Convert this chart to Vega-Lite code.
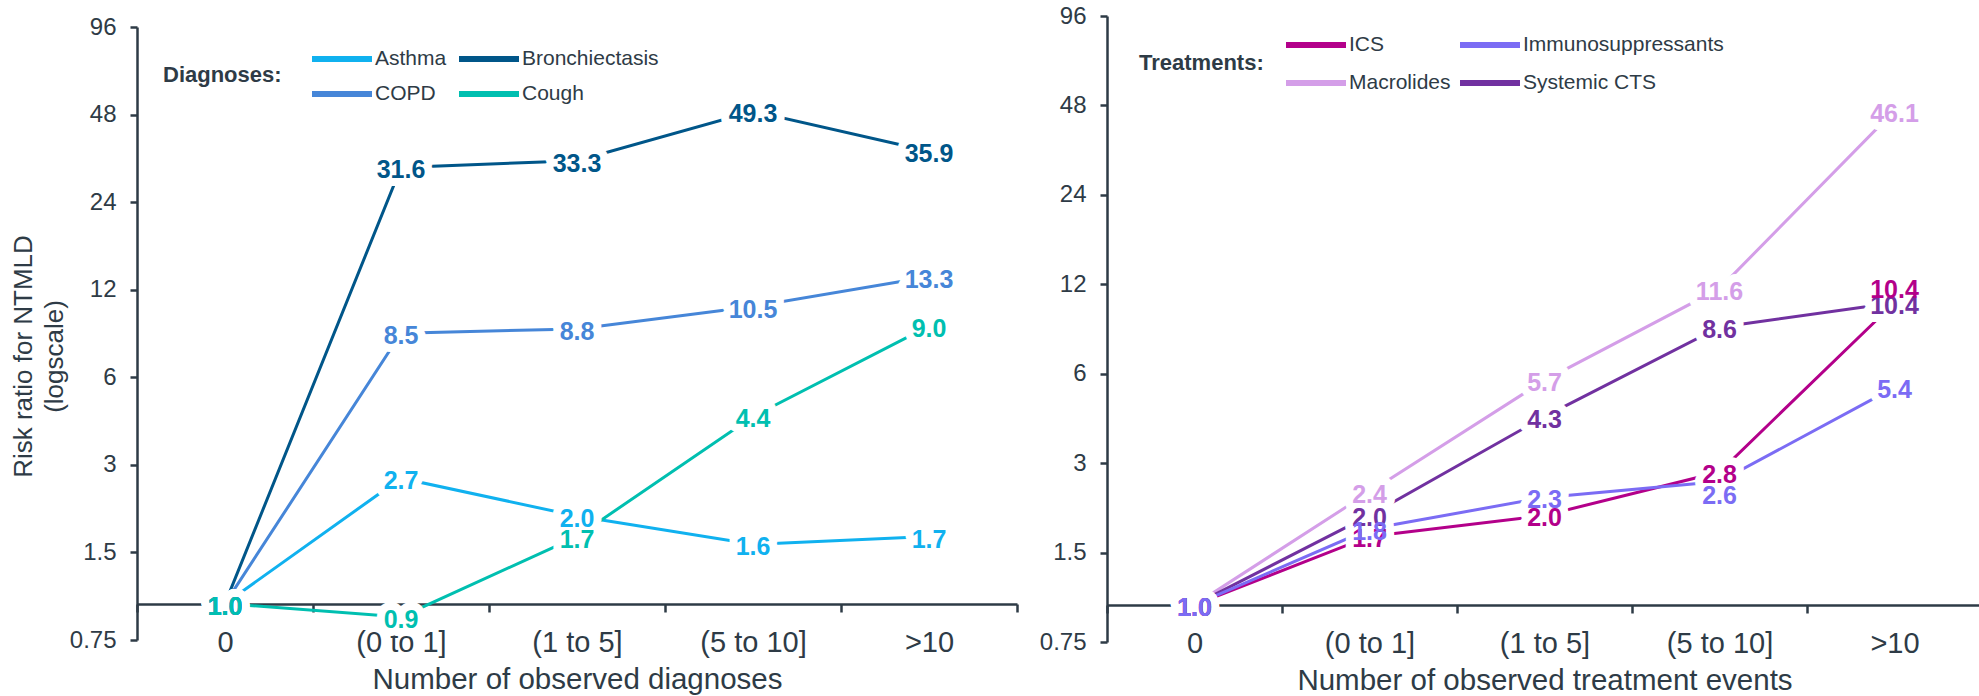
{
  "$schema": "https://vega.github.io/schema/vega-lite/v6.json",
  "padding": {"left": 10, "top": 4, "right": 0, "bottom": 0},
  "spacing": 20,
  "datasets": {
    "diag": [
      {"series": "Asthma", "cat": "0", "rr": 1.0},
      {"series": "Asthma", "cat": "(0 to 1]", "rr": 2.7},
      {"series": "Asthma", "cat": "(1 to 5]", "rr": 2.0},
      {"series": "Asthma", "cat": "(5 to 10]", "rr": 1.6},
      {"series": "Asthma", "cat": ">10", "rr": 1.7},
      {"series": "Bronchiectasis", "cat": "0", "rr": 1.0},
      {"series": "Bronchiectasis", "cat": "(0 to 1]", "rr": 31.6},
      {"series": "Bronchiectasis", "cat": "(1 to 5]", "rr": 33.3},
      {"series": "Bronchiectasis", "cat": "(5 to 10]", "rr": 49.3},
      {"series": "Bronchiectasis", "cat": ">10", "rr": 35.9},
      {"series": "COPD", "cat": "0", "rr": 1.0},
      {"series": "COPD", "cat": "(0 to 1]", "rr": 8.5},
      {"series": "COPD", "cat": "(1 to 5]", "rr": 8.8},
      {"series": "COPD", "cat": "(5 to 10]", "rr": 10.5},
      {"series": "COPD", "cat": ">10", "rr": 13.3},
      {"series": "Cough", "cat": "0", "rr": 1.0},
      {"series": "Cough", "cat": "(0 to 1]", "rr": 0.9},
      {"series": "Cough", "cat": "(1 to 5]", "rr": 1.7},
      {"series": "Cough", "cat": "(5 to 10]", "rr": 4.4},
      {"series": "Cough", "cat": ">10", "rr": 9.0}
    ],
    "treat": [
      {"series": "ICS", "cat": "0", "rr": 1.0},
      {"series": "ICS", "cat": "(0 to 1]", "rr": 1.7},
      {"series": "ICS", "cat": "(1 to 5]", "rr": 2.0},
      {"series": "ICS", "cat": "(5 to 10]", "rr": 2.8},
      {"series": "ICS", "cat": ">10", "rr": 10.4},
      {"series": "Macrolides", "cat": "0", "rr": 1.0},
      {"series": "Macrolides", "cat": "(0 to 1]", "rr": 2.4},
      {"series": "Macrolides", "cat": "(1 to 5]", "rr": 5.7},
      {"series": "Macrolides", "cat": "(5 to 10]", "rr": 11.6},
      {"series": "Macrolides", "cat": ">10", "rr": 46.1},
      {"series": "Systemic CTS", "cat": "0", "rr": 1.0},
      {"series": "Systemic CTS", "cat": "(0 to 1]", "rr": 2.0},
      {"series": "Systemic CTS", "cat": "(1 to 5]", "rr": 4.3},
      {"series": "Systemic CTS", "cat": "(5 to 10]", "rr": 8.6},
      {"series": "Systemic CTS", "cat": ">10", "rr": 10.4},
      {"series": "Immunosuppressants", "cat": "0", "rr": 1.0},
      {"series": "Immunosuppressants", "cat": "(0 to 1]", "rr": 1.8},
      {"series": "Immunosuppressants", "cat": "(1 to 5]", "rr": 2.3},
      {"series": "Immunosuppressants", "cat": "(5 to 10]", "rr": 2.6},
      {"series": "Immunosuppressants", "cat": ">10", "rr": 5.4}
    ]
  },
  "config": {
    "font": "Liberation Sans",
    "view": {"stroke": null},
    "axis": {
      "grid": false,
      "domainColor": "#2e3b46",
      "tickColor": "#2e3b46",
      "labelColor": "#2e3b46",
      "titleColor": "#2e3b46",
      "domainWidth": 2.5,
      "tickWidth": 2.5,
      "labelFont": "Liberation Sans",
      "titleFont": "Liberation Sans",
      "titleFontWeight": "normal"
    },
    "legend": {
      "labelFont": "Liberation Sans",
      "titleFont": "Liberation Sans",
      "labelColor": "#2e3b46",
      "titleColor": "#2e3b46",
      "labelLimit": 400
    }
  },
  "resolve": {"scale": {"color": "independent", "x": "independent", "y": "independent"}, "legend": {"color": "independent"}},
  "hconcat": [
    {
      "width": 880,
      "height": 624,
      "data": {"name": "diag"},
      "encoding": {
        "x": {
          "field": "cat", "type": "ordinal",
          "sort": ["0", "(0 to 1]", "(1 to 5]", "(5 to 10]", ">10"],
          "scale": {"type": "band", "paddingInner": 0, "paddingOuter": 0},
          "axis": {
            "title": "Number of observed diagnoses",
            "offset": -36, "tickBand": "extent", "tickSize": 8,
            "labelPadding": 16, "labelFontSize": 29, "labelAngle": 0, "labelOverlap": false, "labelFlush": false,
            "titleFontSize": 29.5, "titlePadding": 8
          }
        },
        "y": {
          "field": "rr", "type": "quantitative",
          "scale": {"type": "log", "domain": [0.75, 96], "nice": false, "range": [624, 11]},
          "axis": {
            "values": [0.75, 1.5, 3, 6, 12, 24, 48, 96], "format": "~g",
            "tickSize": 7, "labelPadding": 14, "labelFontSize": 24,
            "title": ["Risk ratio for NTMLD", "(logscale)"],
            "titleFontSize": 26, "titleLineHeight": 31, "titlePadding": 2, "titleY": 340
          }
        }
      },
      "layer": [
        {
          "mark": {"type": "line", "strokeWidth": 3},
          "encoding": {
            "order": {"value": null},
            "color": {
              "field": "series", "type": "nominal",
              "scale": {"domain": ["Asthma", "Bronchiectasis", "COPD", "Cough"], "range": ["#10b1ef", "#005689", "#4686d8", "#00bfb0"]},
              "legend": {
                "orient": "none", "legendX": 26, "legendY": 28,
                "title": "Diagnoses:", "titleOrient": "left", "titleFontSize": 22, "titleFontWeight": "bold",
                "titlePadding": 45, "titleAnchor": "middle", "titleBaseline": "middle",
                "columns": 2, "direction": "horizontal",
                "symbolType": "M-2.5,0H2.5", "symbolSize": 576, "symbolStrokeWidth": 6,
                "labelFontSize": 21, "labelOffset": 18, "columnPadding": 0, "rowPadding": 8
              }
            }
          }
        },
        {
          "mark": {"type": "text", "fontSize": 25, "fontWeight": "bold", "dy": 3, "fill": "white", "stroke": "white", "strokeWidth": 16, "strokeJoin": "round"},
          "encoding": {"text": {"field": "rr", "type": "quantitative", "format": ".1f"}}
        },
        {
          "mark": {"type": "text", "fontSize": 25, "fontWeight": "bold", "dy": 3},
          "encoding": {
            "text": {"field": "rr", "type": "quantitative", "format": ".1f"},
            "color": {"field": "series", "type": "nominal", "legend": null}
          }
        }
      ]
    },
    {
      "width": 875,
      "height": 626,
      "data": {"name": "treat"},
      "encoding": {
        "x": {
          "field": "cat", "type": "ordinal",
          "sort": ["0", "(0 to 1]", "(1 to 5]", "(5 to 10]", ">10"],
          "scale": {"type": "band", "paddingInner": 0, "paddingOuter": 0},
          "axis": {
            "title": "Number of observed treatment events",
            "offset": -37, "tickBand": "extent", "tickSize": 8,
            "labelPadding": 16, "labelFontSize": 29, "labelAngle": 0, "labelOverlap": false, "labelFlush": false,
            "titleFontSize": 29.5, "titlePadding": 8
          }
        },
        "y": {
          "field": "rr", "type": "quantitative",
          "scale": {"type": "log", "domain": [0.75, 96], "nice": false},
          "axis": {
            "values": [0.75, 1.5, 3, 6, 12, 24, 48, 96], "format": "~g",
            "tickSize": 7, "labelPadding": 14, "labelFontSize": 24,
            "title": null
          }
        }
      },
      "layer": [
        {
          "mark": {"type": "line", "strokeWidth": 3},
          "encoding": {
            "order": {"value": null},
            "color": {
              "field": "series", "type": "nominal",
              "scale": {"domain": ["ICS", "Immunosuppressants", "Macrolides", "Systemic CTS"], "range": ["#b3008a", "#7b6cf4", "#d49ee8", "#7131a0"]},
              "legend": {
                "orient": "none", "legendX": 32, "legendY": 14,
                "title": "Treatments:", "titleOrient": "left", "titleFontSize": 22, "titleFontWeight": "bold",
                "titlePadding": 37, "titleAnchor": "middle", "titleBaseline": "middle",
                "columns": 2, "direction": "horizontal",
                "symbolType": "M-2.5,0H2.5", "symbolSize": 576, "symbolStrokeWidth": 6,
                "labelFontSize": 21, "labelOffset": 18, "columnPadding": -3, "rowPadding": 11
              }
            }
          }
        },
        {
          "transform": [{"filter": "!(datum.series === 'ICS' && datum.cat === '>10') && !(datum.series === 'Immunosuppressants' && datum.cat === '(5 to 10]')"}],
          "mark": {"type": "text", "fontSize": 25, "fontWeight": "bold", "dy": 3, "fill": "white", "stroke": "white", "strokeWidth": 16, "strokeJoin": "round"},
          "encoding": {"text": {"field": "rr", "type": "quantitative", "format": ".1f"}}
        },
        {
          "transform": [{"filter": "datum.series === 'ICS' && datum.cat === '>10'"}],
          "mark": {"type": "text", "fontSize": 25, "fontWeight": "bold", "dy": -13, "fill": "white", "stroke": "white", "strokeWidth": 16, "strokeJoin": "round"},
          "encoding": {"text": {"field": "rr", "type": "quantitative", "format": ".1f"}}
        },
        {
          "transform": [{"filter": "datum.series === 'Immunosuppressants' && datum.cat === '(5 to 10]'"}],
          "mark": {"type": "text", "fontSize": 25, "fontWeight": "bold", "dy": 14, "fill": "white", "stroke": "white", "strokeWidth": 16, "strokeJoin": "round"},
          "encoding": {"text": {"field": "rr", "type": "quantitative", "format": ".1f"}}
        },
        {
          "transform": [{"filter": "!(datum.series === 'ICS' && datum.cat === '>10') && !(datum.series === 'Immunosuppressants' && datum.cat === '(5 to 10]')"}],
          "mark": {"type": "text", "fontSize": 25, "fontWeight": "bold", "dy": 3},
          "encoding": {
            "text": {"field": "rr", "type": "quantitative", "format": ".1f"},
            "color": {"field": "series", "type": "nominal", "legend": null}
          }
        },
        {
          "transform": [{"filter": "datum.series === 'ICS' && datum.cat === '>10'"}],
          "mark": {"type": "text", "fontSize": 25, "fontWeight": "bold", "dy": -13},
          "encoding": {
            "text": {"field": "rr", "type": "quantitative", "format": ".1f"},
            "color": {"field": "series", "type": "nominal", "legend": null}
          }
        },
        {
          "transform": [{"filter": "datum.series === 'Immunosuppressants' && datum.cat === '(5 to 10]'"}],
          "mark": {"type": "text", "fontSize": 25, "fontWeight": "bold", "dy": 14},
          "encoding": {
            "text": {"field": "rr", "type": "quantitative", "format": ".1f"},
            "color": {"field": "series", "type": "nominal", "legend": null}
          }
        }
      ]
    }
  ]
}
